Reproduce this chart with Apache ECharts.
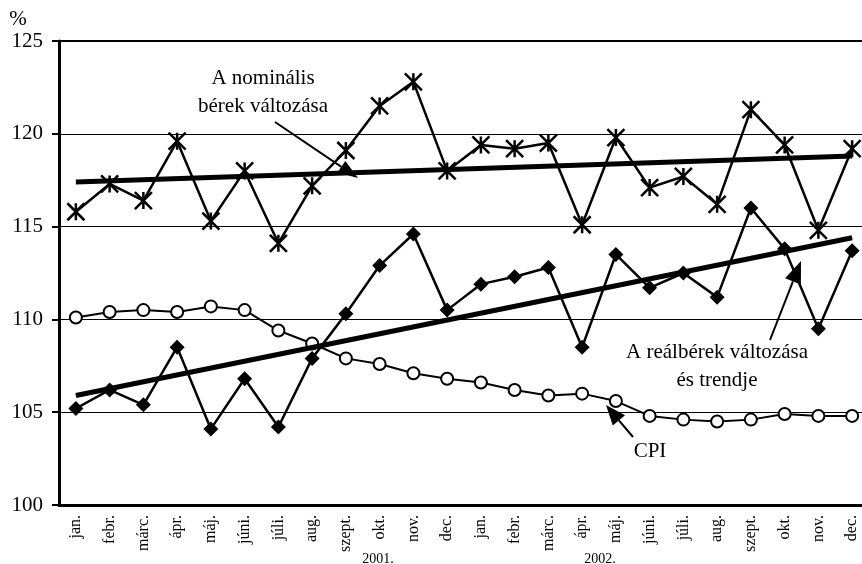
<!DOCTYPE html>
<html><head><meta charset="utf-8">
<script src="https://cdn.jsdelivr.net/npm/echarts@6/dist/echarts.min.js"></script>
<style>html,body{margin:0;padding:0;background:#fff}#c{width:862px;height:564px}</style>
</head><body><div id="c"></div>
<script>
// ---- data ----
const months = ['jan.','febr.','márc.','ápr.','máj.','júni.','júli.','aug.','szept.','okt.','nov.','dec.'];
const categories = months.concat(months);
const yearLabels = ['2001.', '2002.'];
const yTicks = [100, 105, 110, 115, 120, 125];
const nominal = [115.8,117.3,116.4,119.6,115.3,118.0,114.1,117.2,119.1,121.5,122.8,118.0,
                 119.4,119.2,119.5,115.1,119.8,117.1,117.7,116.2,121.3,119.4,114.8,119.2];
const real    = [105.2,106.2,105.4,108.5,104.1,106.8,104.2,107.9,110.3,112.9,114.6,110.5,
                 111.9,112.3,112.8,108.5,113.5,111.7,112.5,111.2,116.0,113.8,109.5,113.7];
const cpi     = [110.1,110.4,110.5,110.4,110.7,110.5,109.4,108.7,107.9,107.6,107.1,106.8,
                 106.6,106.2,105.9,106.0,105.6,104.8,104.6,104.5,104.6,104.9,104.8,104.8];
const nominalTrendEnds = [117.4, 118.8];
const realTrendEnds = [105.9, 114.4];
const annNominal = ['A nominális', 'bérek változása'];
const annReal = ['A reálbérek változása', 'és trendje'];
const annCpi = 'CPI';

// ---- chart ----
const FONT = '"Liberation Serif", "DejaVu Serif", serif';
const chart = echarts.init(document.getElementById('c'), null, {renderer: 'canvas'});
const last = categories.length - 1;

function arrow(x1, y1, x2, y2, len, w) {
  const a = Math.atan2(y2 - y1, x2 - x1);
  const c = Math.cos(a), s = Math.sin(a);
  const bx = x2 - len * c, by = y2 - len * s;
  const px = -s * w / 2, py = c * w / 2;
  return [
    {type: 'line', shape: {x1, y1, x2: bx, y2: by}, style: {stroke: '#000', lineWidth: 2}, z: 100},
    {type: 'polygon', shape: {points: [[x2, y2], [bx + px, by + py], [bx - px, by - py]]},
     style: {fill: '#000'}, z: 100}
  ];
}
function txt(x, y, t, size) {
  return {type: 'text', x, y, z: 100,
    style: {text: t, font: size + 'px ' + FONT, fill: '#000', textAlign: 'center', textVerticalAlign: 'middle'}};
}

const asterisk = 'path://M0,0L20,20M20,0L0,20M10,0L10,20';

chart.setOption({
  animation: false,
  backgroundColor: '#fff',
  grid: {left: 59, width: 810, top: 41, height: 464, show: true, borderColor: '#000', borderWidth: 2,
         backgroundColor: 'transparent', containLabel: false, outerBoundsMode: 'none'},
  xAxis: {
    type: 'category', data: categories, boundaryGap: true,
    axisLine: {lineStyle: {color: '#000', width: 3}},
    axisTick: {interval: 0, length: 5, lineStyle: {color: '#000', width: 2}},
    axisLabel: {interval: 0, rotate: 90, margin: 10, fontFamily: FONT, fontSize: 16, color: '#000'},
    splitLine: {show: false}
  },
  yAxis: {
    type: 'value', min: yTicks[0], max: yTicks[yTicks.length - 1], interval: 5,
    axisLine: {show: true, lineStyle: {color: '#000', width: 3}},
    axisTick: {show: true, length: 7, lineStyle: {color: '#000', width: 2}},
    axisLabel: {margin: 16, fontFamily: FONT, fontSize: 21, color: '#000'},
    splitLine: {show: true, lineStyle: {color: '#000', width: 1}}
  },
  series: [
    {type: 'line', data: nominal, symbol: asterisk, symbolSize: 17,
     itemStyle: {color: '#000', borderColor: '#000', borderWidth: 2.5},
     lineStyle: {color: '#000', width: 2.5}, z: 3},
    {type: 'line', data: real, symbol: 'diamond', symbolSize: 15,
     itemStyle: {color: '#000', borderColor: '#000', borderWidth: 0},
     lineStyle: {color: '#000', width: 2.5}, z: 3},
    {type: 'line', data: cpi, symbol: 'circle', symbolSize: 12,
     itemStyle: {color: '#fff', borderColor: '#000', borderWidth: 2},
     lineStyle: {color: '#000', width: 2}, z: 3},
    {type: 'line', data: [[0, nominalTrendEnds[0]], [last, nominalTrendEnds[1]]], symbol: 'none',
     lineStyle: {color: '#000', width: 5}, z: 4},
    {type: 'line', data: [[0, realTrendEnds[0]], [last, realTrendEnds[1]]], symbol: 'none',
     lineStyle: {color: '#000', width: 5}, z: 4}
  ],
  graphic: [
    txt(18, 19, '%', 21),
    txt(378, 559, yearLabels[0], 14),
    txt(600, 559, yearLabels[1], 14),
    txt(263, 78, annNominal[0], 21),
    txt(263, 106, annNominal[1], 21),
    txt(717, 352, annReal[0], 21),
    txt(717, 380, annReal[1], 21),
    txt(650, 451, annCpi, 21),
    ...arrow(275, 122, 358, 178, 20, 14),
    ...arrow(770, 340, 801, 261, 22, 17),
    ...arrow(633, 437, 606, 405, 20, 16)
  ]
});
</script>
</body></html>
